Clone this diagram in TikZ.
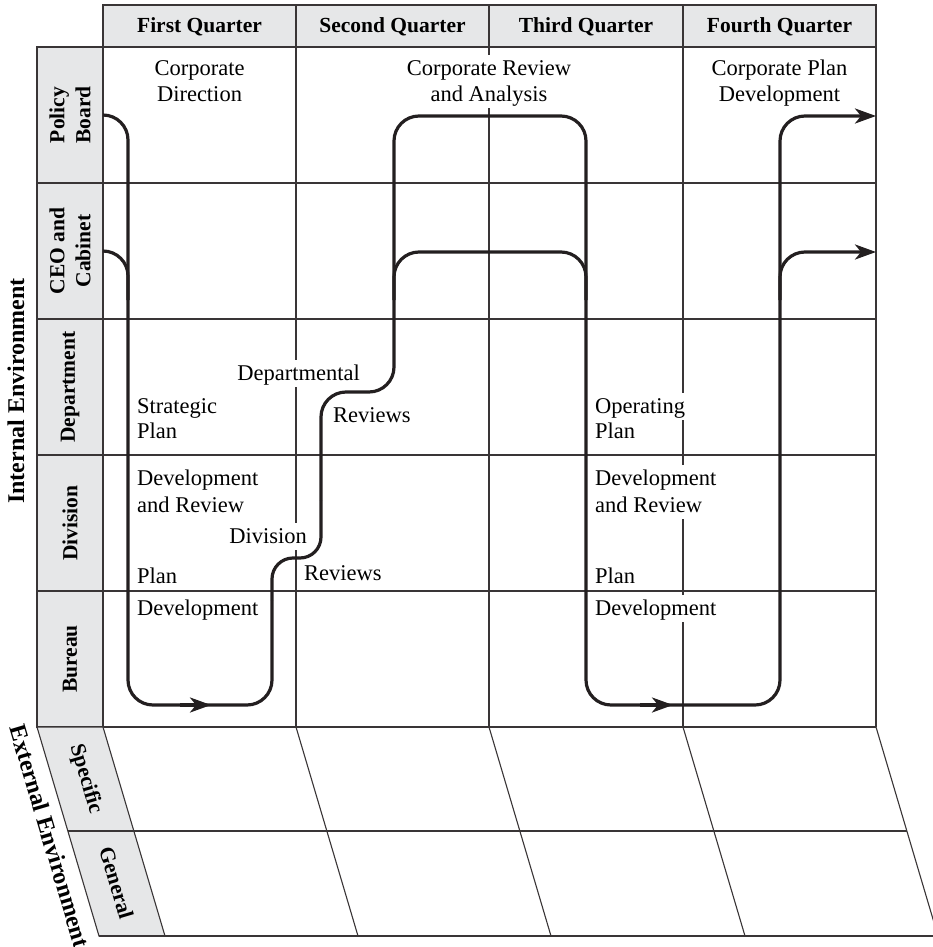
\documentclass[tikz,border=0pt]{standalone}
\usepackage{fontspec}
\setmainfont{Liberation Serif}
\usetikzlibrary{arrows.meta}
\definecolor{panel}{RGB}{230,231,232}
\definecolor{ink}{RGB}{35,31,32}
\newcommand\bodyfont{\fontsize{22.5}{26.5}\selectfont}
\newcommand\headfont{\fontsize{21.5}{26}\selectfont\bfseries}
\newcommand\sidefont{\fontsize{24}{28}\selectfont\bfseries}

\begin{document}
\begin{tikzpicture}[x=1pt,y=-1pt,
  grid/.style={line width=1.1pt, draw=ink!90},
  flow/.style={line width=3.2pt, draw=ink, line join=round},
  tip/.style={-{Stealth[length=21pt,width=15pt,inset=6pt]}},
  txt/.style={font=\bodyfont, fill=white, inner sep=1.5pt, text height=19pt, text depth=5pt},
  head/.style={font=\headfont},
  side/.style={font=\sidefont}]
\useasboundingbox (0,0) rectangle (933,947);
\clip (0,0) rectangle (933,947);

% quarter header and row-label column
\filldraw[grid, fill=panel] (103,5) rectangle (876,47);
\filldraw[grid, fill=panel] (37,47) rectangle (103,727);
\foreach \x in {296,489,683} \draw[grid] (\x,5) -- (\x,727);
\foreach \y in {183,319,455,591} \draw[grid] (37,\y) -- (876,\y);
\draw[grid] (876,47) -- (876,727);
\draw[grid] (37,727) -- (876,727);

% slanted external-environment band
\filldraw[grid, fill=panel] (37,727) -- (103,727) -- (165,936) -- (99,936) -- cycle;
\foreach \x in {296,489,683,876} \draw[grid] (\x,727) -- (\x+62,936);
\draw[grid] (68,831) -- (907,831);
\draw[grid] (99,936) -- (945,936);

% column headings
\node[head, anchor=base] (q1) at (199.5,33) {First Quarter};
\node[head, anchor=base] (q2) at (392.5,33) {Second Quarter};
\node[head, anchor=base] (q3) at (586,33) {Third Quarter};
\node[head, anchor=base] (q4) at (779.5,33) {Fourth Quarter};

% row labels
\node[head, rotate=90, align=center] (rpb) at (70,115) {Policy\\Board};
\node[head, rotate=90, align=center] (rceo) at (70,251) {CEO and\\Cabinet};
\node[head, rotate=90] (rdep) at (70,387) {Department};
\node[head, rotate=90] (rdiv) at (70,523) {Division};
\node[head, rotate=90] (rbur) at (70,659) {Bureau};
\node[head, rotate=-73.5] (rspec) at (85.5,779) {Specific};
\node[head, rotate=-73.5] (rgen) at (116.5,883) {General};

\node[side, rotate=90] (internal) at (16,391) {Internal Environment};
\node[side, rotate=-73.5] (external) at (50,836) {External Environment};

% activity captions
\node[txt, anchor=base] (cd1) at (199.5,76) {Corporate};
\node[txt, anchor=base] (cd2) at (199.5,102) {Direction};
\node[txt, anchor=base] (cr1) at (489,76) {Corporate Review};
\node[txt, anchor=base] (cr2) at (489,102) {and Analysis};
\node[txt, anchor=base] (cp1) at (779.5,76) {Corporate Plan};
\node[txt, anchor=base] (cp2) at (779.5,102) {Development};

\node[txt, anchor=base west] (sp1) at (135.5,413) {Strategic};
\node[txt, anchor=base west] (sp2) at (135.5,438) {Plan};
\node[txt, anchor=base west] (sd1) at (135.5,485) {Development};
\node[txt, anchor=base west] (sd2) at (135.5,512) {and Review};
\node[txt, anchor=base west] (spl) at (135.5,583) {Plan};
\node[txt, anchor=base west] (sdv) at (135.5,615) {Development};

\node[txt, anchor=base east] (dep) at (361.5,380) {Departmental};
\node[txt, anchor=base west] (rv1) at (331.5,422) {Reviews};
\node[txt, anchor=base east] (div) at (308.5,543) {Division};
\node[txt, anchor=base west] (rv2) at (302.5,580) {Reviews};

\node[txt, anchor=base west] (op1) at (593.5,413) {Operating};
\node[txt, anchor=base west] (op2) at (593.5,438) {Plan};
\node[txt, anchor=base west] (od1) at (593.5,485) {Development};
\node[txt, anchor=base west] (od2) at (593.5,512) {and Review};
\node[txt, anchor=base west] (opl) at (593.5,583) {Plan};
\node[txt, anchor=base west] (odv) at (593.5,615) {Development};

% planning flow
\draw[flow, rounded corners=25pt] (103,115) -- (128,115) -- (128,705) -- (272,705) -- (272,600);
\draw[flow, rounded corners=21pt] (272,600) -- (272,558) -- (321,558) -- (321,500);
\draw[flow, tip, rounded corners=25pt] (321,500) -- (321,392) -- (394,392) -- (394,116)
  -- (586,116) -- (586,705) -- (780,705) -- (780,116) -- (876,116);
\draw[flow, rounded corners=25pt] (103,251) -- (128,251) -- (128,300);
\draw[flow, rounded corners=25pt] (394,300) -- (394,252) -- (586,252) -- (586,300);
\draw[flow, tip, rounded corners=25pt] (780,300) -- (780,252) -- (876,252);
\draw[flow, tip] (180,705) -- (211,705);
\draw[flow, tip] (640,705) -- (673,705);
\end{tikzpicture}
\end{document}
